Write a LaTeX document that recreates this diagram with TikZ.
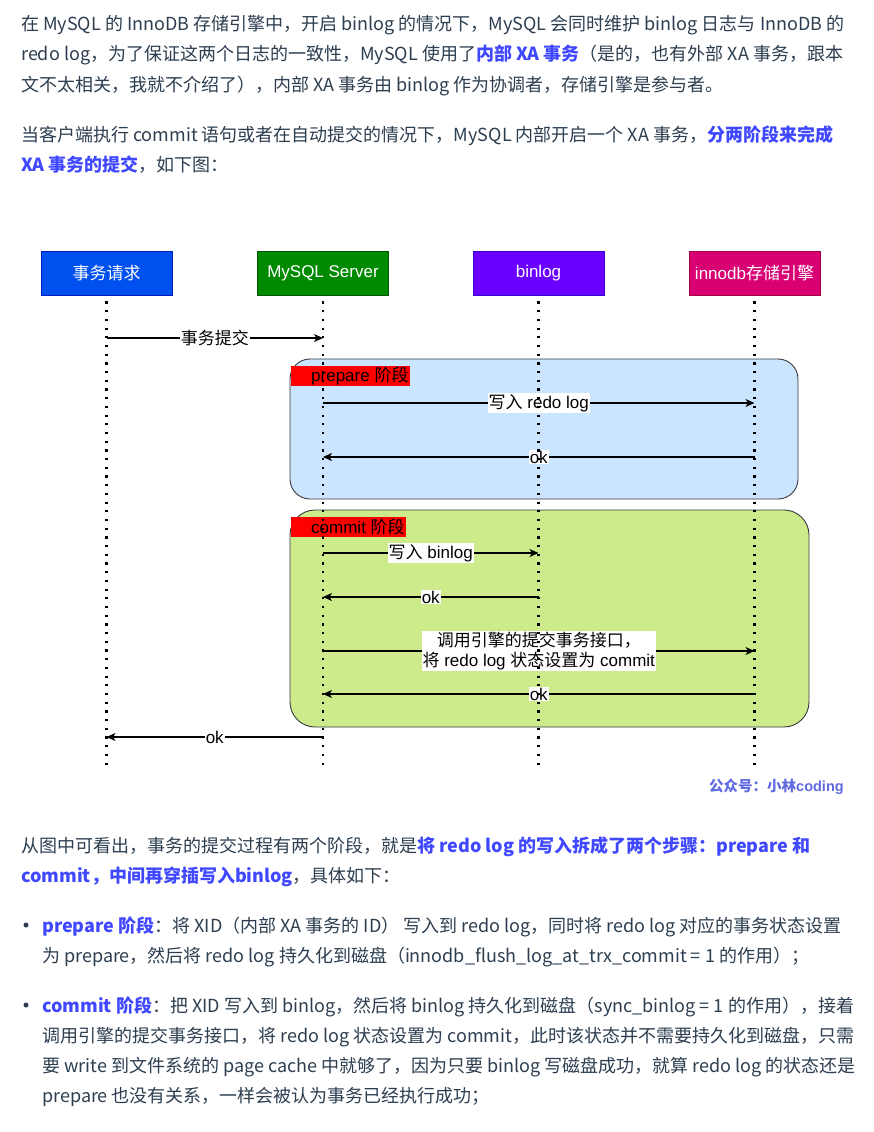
\documentclass[tikz,border=0pt]{standalone}
\usepackage{fontspec}
\usetikzlibrary{arrows.meta}
\setmainfont{Noto Sans CJK SC}
\newfontfamily\cjk{Noto Sans CJK SC}
\newfontfamily\dgm{Liberation Sans}
\definecolor{txt}{RGB}{44,62,80}
\definecolor{hlblue}{RGB}{64,72,255}
\definecolor{wmblue}{RGB}{96,106,225}
\definecolor{reqfill}{RGB}{0,80,239}
\definecolor{reqline}{RGB}{0,29,188}
\definecolor{srvfill}{RGB}{0,138,0}
\definecolor{srvline}{RGB}{0,87,0}
\definecolor{blgfill}{RGB}{106,0,255}
\definecolor{blgline}{RGB}{55,0,204}
\definecolor{innofill}{RGB}{216,0,115}
\definecolor{innoline}{RGB}{165,0,64}
\definecolor{prepfill}{RGB}{204,229,255}
\definecolor{commfill}{RGB}{205,235,139}
\definecolor{boxline}{RGB}{54,57,61}
\definecolor{tagred}{RGB}{255,0,0}
\newcommand{\dfont}{\dgm\fontsize{17}{20}\selectfont}
\newcommand{\hl}[1]{\textcolor{hlblue}{\textbf{#1}}}
\newcommand{\bodyline}[4]{\node[bodytext] (#1) at (#2,#3) {#4};}
\newcommand{\msg}[5]{
    \coordinate (#4) at (0,#3);
    \draw[msgline] (#1 |- #4) -- node[msglabel] (#4txt) {#5} (#2 |- #4);
}
\tikzset{
  bodytext/.style={anchor=base west, inner sep=0pt, text=txt, font=\fontsize{18}{22}\selectfont},
  bulletdot/.style={circle, fill=txt, inner sep=0pt, minimum size=5pt},
  head/.style={minimum width=131pt, minimum height=44pt, inner sep=0pt, text=white, font=\dfont, line width=0.8pt},
  phasebox/.style={draw=boxline, line width=0.9pt},
  tag/.style={anchor=north west, fill=tagred, inner xsep=1pt, inner ysep=0pt, minimum height=20pt, font=\dfont, text=black},
  msgline/.style={line width=1.1pt, -{Stealth[length=9pt,width=8pt,inset=2.5pt]}},
  msglabel/.style={fill=white, inner sep=1pt, font=\dfont, align=center},
  lifeline/.style={line width=2.2pt, dash pattern=on 2.2pt off 6.5pt}
}
\begin{document}
\begin{tikzpicture}[x=1pt,y=-1pt]
\fill[white] (0,0) rectangle (874,1132);
\useasboundingbox (0,0) rectangle (874,1132);
% article text above the figure
\bodyline{p1a}{21}{31}{在 MySQL 的 InnoDB 存储引擎中，开启 binlog 的情况下，MySQL 会同时维护 binlog 日志与 InnoDB 的}
\bodyline{p1b}{21}{61}{redo log，为了保证这两个日志的一致性，MySQL 使用了\hl{内部 XA 事务}（是的，也有外部 XA 事务，跟本}
\bodyline{p1c}{21}{91}{文不太相关，我就不介绍了），内部 XA 事务由 binlog 作为协调者，存储引擎是参与者。}
\bodyline{p2a}{21}{141}{当客户端执行 commit 语句或者在自动提交的情况下，MySQL 内部开启一个 XA 事务，\hl{分两阶段来完成}}
\bodyline{p2b}{21}{171}{\hl{XA 事务的提交}，如下图：}
% participants
\node[head, fill=reqfill, draw=reqline] (req) at (106.5,273) {\cjk 事务请求};
\node[head, fill=srvfill, draw=srvline] (srv) at (323,273) {MySQL Server};
\node[head, fill=blgfill, draw=blgline] (blg) at (538.5,273) {binlog};
\node[head, fill=innofill, draw=innoline] (inno) at (754.5,273) {innodb{\cjk 存储引擎}};
% the two phases
\draw[phasebox, fill=prepfill, rounded corners=20pt] (290,359) rectangle (798,499);
\draw[phasebox, fill=commfill, rounded corners=25pt] (290,510) rectangle (809,727);
\node[tag] (prepTag) at (291,366) {\hspace{19pt}prepare {\cjk 阶段}};
\node[tag] (commTag) at (291,517) {\hspace{19pt}commit {\cjk 阶段}};
% messages
\msg{req}{srv}{338}{m1}{\cjk 事务提交}
\msg{srv}{inno}{403}{m2}{{\cjk 写入} redo log}
\msg{inno}{srv}{457}{m3}{ok}
\msg{srv}{blg}{553}{m4}{{\cjk 写入} binlog}
\msg{blg}{srv}{597}{m5}{ok}
\msg{srv}{inno}{651}{m6}{{\cjk 调用引擎的提交事务接口，}\\{\cjk 将} redo log {\cjk 状态设置为} commit}
\msg{inno}{srv}{694}{m7}{ok}
\msg{srv}{req}{737}{m8}{ok}
% lifelines
\coordinate (lifeEnd) at (0,770);
\foreach \p in {req,srv,blg,inno}{
  \draw[lifeline] ([yshift=-6pt]\p.south) -- (\p |- lifeEnd);
}
\node[anchor=west, inner sep=0pt, text=wmblue, font=\bfseries\fontsize{14.5}{16}\selectfont] (wm) at (709,787) {{\cjk 公众号：小林}{\dgm coding}};
% article text below the figure
\bodyline{p3a}{21}{852}{从图中可看出，事务的提交过程有两个阶段，就是\hl{将 redo log 的写入拆成了两个步骤：prepare 和}}
\bodyline{p3b}{21}{882}{\hl{commit，中间再穿插写入binlog}，具体如下：}
\node[bulletdot] (dot1) at (26,925) {};
\bodyline{b1a}{42}{932}{\hl{prepare 阶段}：将 XID（内部 XA 事务的 ID） 写入到 redo log，同时将 redo log 对应的事务状态设置}
\bodyline{b1b}{42}{962}{为 prepare，然后将 redo log 持久化到磁盘（innodb\_flush\_log\_at\_trx\_commit = 1 的作用）；}
\node[bulletdot] (dot2) at (26,1005) {};
\bodyline{b2a}{42}{1012}{\hl{commit 阶段}：把 XID 写入到 binlog，然后将 binlog 持久化到磁盘（sync\_binlog = 1 的作用），接着}
\bodyline{b2b}{42}{1042}{调用引擎的提交事务接口，将 redo log 状态设置为 commit，此时该状态并不需要持久化到磁盘，只需}
\bodyline{b2c}{42}{1072}{要 write 到文件系统的 page cache 中就够了，因为只要 binlog 写磁盘成功，就算 redo log 的状态还是}
\bodyline{b2d}{42}{1102}{prepare 也没有关系，一样会被认为事务已经执行成功；}
\end{tikzpicture}
\end{document}
